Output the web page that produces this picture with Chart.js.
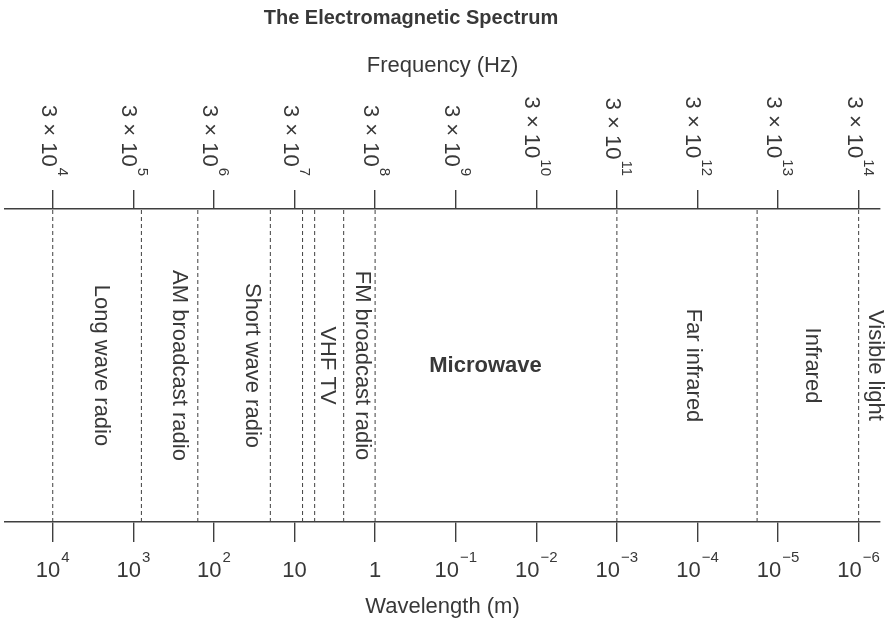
<!DOCTYPE html>
<html>
<head>
<meta charset="utf-8">
<title>The Electromagnetic Spectrum</title>
<script src="https://cdn.jsdelivr.net/npm/chart.js@4.4.0/dist/chart.umd.min.js"></script>
<style>
  html, body { margin: 0; padding: 0; background: #fff; }
  #wrap { width: 885px; height: 624px; position: relative; }
</style>
</head>
<body>
<div id="wrap"><canvas id="spectrum"></canvas></div>
<script>
// log10 of wavelength (m) at each major tick, left to right
const wavelengthExponents = [4, 3, 2, 1, 0, -1, -2, -3, -4, -5, -6];
// bottom tick labels: [base, superscript]
const wavelengthLabels = [
    ['10', '4'], ['10', '3'], ['10', '2'], ['10', ''], ['1', ''],
    ['10', '\u22121'], ['10', '\u22122'], ['10', '\u22123'],
    ['10', '\u22124'], ['10', '\u22125'], ['10', '\u22126']
];
// top tick labels: frequency in Hz
const frequencyLabels = [
    ['3 \u00d7 10', '4'], ['3 \u00d7 10', '5'], ['3 \u00d7 10', '6'],
    ['3 \u00d7 10', '7'], ['3 \u00d7 10', '8'], ['3 \u00d7 10', '9'],
    ['3 \u00d7 10', '10'], ['3 \u00d7 10', '11'], ['3 \u00d7 10', '12'],
    ['3 \u00d7 10', '13'], ['3 \u00d7 10', '14']
];
// band boundaries, log10 wavelength (m)
const bandEdges = [4, 2.9, 2.2, 1.3, 0.9, 0.75, 0.39, 0, -3, -4.74, -6];
const bandNames = [
    'Long wave radio', 'AM broadcast radio', 'Short wave radio', 'VHF TV',
    'FM broadcast radio', 'Microwave', 'Far infrared', 'Infrared', 'Visible light'
];
// where each band name sits, log10 wavelength (m)
const bandCentres = [3.4, 2.43, 1.53, 0.6, 0.16, -1.37, -3.94, -5.42, -6.2];

const FONT = "'Liberation Sans', Arial, Helvetica, sans-serif";
const INK = '#383838';
const LINE = '#3f3f3f';

Chart.defaults.font.family = FONT;
Chart.defaults.color = INK;

function decadeTicks(scale) {
    scale.ticks = wavelengthExponents.map(v => ({ value: v }));
}

function axisOptions(position, height, title, titlePadding, tickLength) {
    return {
        type: 'linear',
        position: position,
        reverse: true,
        min: -6.265,
        max: 4.5925,
        afterBuildTicks: decadeTicks,
        afterFit: s => { s.height = height; },
        ticks: { display: false },
        grid: {
            drawOnChartArea: false,
            drawTicks: true,
            tickLength: tickLength,
            color: LINE,
            lineWidth: 1.4
        },
        border: { display: true, color: LINE, width: 1.4 },
        title: {
            display: true,
            text: title,
            color: INK,
            font: { size: 22 },
            padding: titlePadding
        }
    };
}

const labelsPlugin = {
    id: 'spectrumLabels',
    afterDraw(chart) {
        const ctx = chart.ctx;
        const xs = chart.scales.x;
        const ys = chart.scales.y;
        ctx.save();
        ctx.fillStyle = INK;

        // chart title
        ctx.font = `bold 20px ${FONT}`;
        ctx.textAlign = 'center';
        ctx.textBaseline = 'middle';
        ctx.fillText('The Electromagnetic Spectrum', 411, 18);

        // wavelength tick labels (bottom)
        ctx.textAlign = 'left';
        ctx.textBaseline = 'alphabetic';
        wavelengthExponents.forEach((v, i) => {
            const [base, sup] = wavelengthLabels[i];
            const px = xs.getPixelForValue(v);
            ctx.font = `22px ${FONT}`;
            const wb = ctx.measureText(base).width;
            ctx.font = `15px ${FONT}`;
            const ws = sup ? ctx.measureText(sup).width + 1 : 0;
            const x0 = px - (wb + ws) / 2;
            ctx.font = `22px ${FONT}`;
            ctx.fillText(base, x0, xs.top + 55);
            if (sup) {
                ctx.font = `15px ${FONT}`;
                ctx.fillText(sup, x0 + wb + 1, xs.top + 40);
            }
        });

        // frequency tick labels (top), reading downwards
        const x2 = chart.scales.x2;
        wavelengthExponents.forEach((v, i) => {
            const [base, sup] = frequencyLabels[i];
            const px = x2.getPixelForValue(v);
            ctx.font = `22px ${FONT}`;
            const wb = ctx.measureText(base).width;
            ctx.font = `15px ${FONT}`;
            const ws = ctx.measureText(sup).width;
            ctx.save();
            ctx.translate(px, x2.bottom - 33);
            ctx.rotate(Math.PI / 2);
            ctx.font = `22px ${FONT}`;
            ctx.fillText(base, -(wb + ws + 1), 11);
            ctx.font = `15px ${FONT}`;
            ctx.fillText(sup, -ws, -5);
            ctx.restore();
        });

        // band names
        const cy = ys.getPixelForValue(0.5);
        ctx.textAlign = 'center';
        ctx.textBaseline = 'middle';
        bandNames.forEach((name, i) => {
            const px = xs.getPixelForValue(bandCentres[i]);
            if (name === 'Microwave') {
                ctx.font = `bold 22px ${FONT}`;
                ctx.fillText(name, px, cy);
                return;
            }
            ctx.font = `22px ${FONT}`;
            ctx.save();
            ctx.translate(px, cy);
            ctx.rotate(Math.PI / 2);
            ctx.fillText(name, 0, 0);
            ctx.restore();
        });

        ctx.restore();
    }
};

new Chart(document.getElementById('spectrum'), {
    type: 'line',
    data: {
        datasets: bandEdges.map(v => ({
            data: [{ x: v, y: 0 }, { x: v, y: 1 }],
            borderColor: LINE,
            borderWidth: 1,
            borderDash: [4, 3],
            pointRadius: 0,
            fill: false,
            xAxisID: 'x',
            yAxisID: 'y'
        }))
    },
    options: {
        responsive: true,
        maintainAspectRatio: false,
        animation: false,
        layout: { padding: { top: 30, left: 5, right: 5, bottom: 0 } },
        plugins: {
            legend: { display: false },
            tooltip: { enabled: false },
            title: { display: false }
        },
        scales: {
            x: axisOptions('bottom', 102, 'Wavelength (m)', { top: 0, bottom: 4 }, 20),
            x2: axisOptions('top', 179, 'Frequency (Hz)', { top: 23, bottom: 0 }, 19),
            y: { type: 'linear', min: 0, max: 1, display: false }
        }
    },
    plugins: [labelsPlugin]
});
</script>
</body>
</html>
